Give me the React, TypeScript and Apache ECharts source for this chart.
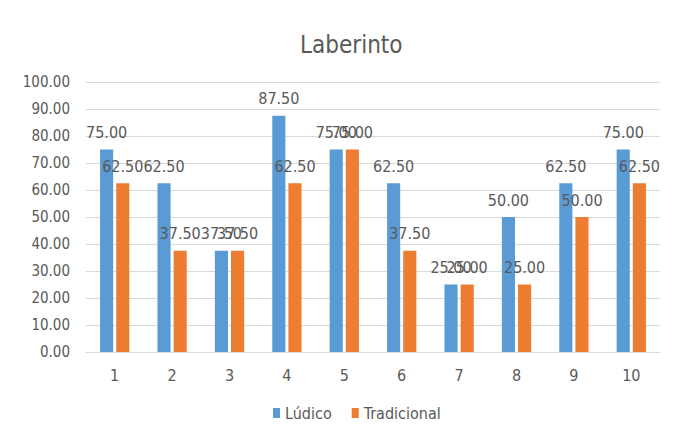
import React, { useEffect, useRef } from "react";
import * as echarts from "echarts";

const categories = ["1", "2", "3", "4", "5", "6", "7", "8", "9", "10"];
const ludico = [75, 62.5, 37.5, 87.5, 75, 62.5, 25, 50, 62.5, 75];
const tradicional = [62.5, 37.5, 37.5, 62.5, 75, 37.5, 25, 25, 50, 62.5];
const seriesNames = ["Lúdico", "Tradicional"];

const FONT = "'Liberation Sans Narrow', 'DejaVu Sans Condensed', sans-serif";
const TEXT = "#595959";

export default function App() {
  const ref = useRef<HTMLDivElement>(null);
  useEffect(() => {
    if (!ref.current) return;
    const chart = echarts.init(ref.current, undefined, { renderer: "svg" });
    const label = {
      show: true,
      position: "top" as const,
      distance: 9,
      color: TEXT,
      fontSize: 16,
      fontFamily: FONT,
      formatter: (p: any) => Number(p.value).toFixed(2),
    };
    chart.setOption({
      animation: false,
      backgroundColor: "#ffffff",
      textStyle: { fontFamily: FONT },
      title: {
        text: "Laberinto",
        left: 295,
        top: 28,
        textStyle: { color: TEXT, fontSize: 24, fontWeight: "normal", fontFamily: FONT },
      },
      legend: {
        data: seriesNames,
        bottom: 16,
        left: 268,
        icon: "rect",
        itemWidth: 7,
        itemHeight: 10,
        itemGap: 20,
        textStyle: { color: TEXT, fontSize: 16, fontFamily: FONT },
      },
      grid: { left: 86, right: 13, top: 82, bottom: 90, containLabel: false },
      xAxis: {
        type: "category",
        data: categories,
        axisLine: { lineStyle: { color: "#d9d9d9" } },
        axisTick: { show: false },
        axisLabel: { color: TEXT, fontSize: 16, fontFamily: FONT, margin: 15 },
      },
      yAxis: {
        type: "value",
        min: 0,
        max: 100,
        interval: 10,
        axisLine: { show: false },
        axisTick: { show: false },
        splitLine: { lineStyle: { color: "#d9d9d9" } },
        axisLabel: {
          color: TEXT,
          fontSize: 15,
          fontFamily: FONT,
          margin: 16,
          formatter: (v: number) => v.toFixed(2),
        },
      },
      series: [
        {
          name: seriesNames[0],
          type: "bar",
          data: ludico,
          itemStyle: { color: "#5b9bd5" },
          barGap: "23%",
          barCategoryGap: "49%",
          label,
        },
        {
          name: seriesNames[1],
          type: "bar",
          data: tradicional,
          itemStyle: { color: "#ed7d31" },
          barGap: "23%",
          barCategoryGap: "49%",
          label,
        },
      ],
    });
    return () => chart.dispose();
  }, []);
  return (
    <div style={{ position: "fixed", left: 0, top: 0, width: 673, height: 442, background: "#fff" }}>
      <div style={{ position: "absolute", left: 10, top: 10, bottom: 8, width: 1, background: "#d9d9d9" }} />
      <div ref={ref} style={{ position: "absolute", left: 0, top: 0, width: 673, height: 442 }} />
    </div>
  );
}
